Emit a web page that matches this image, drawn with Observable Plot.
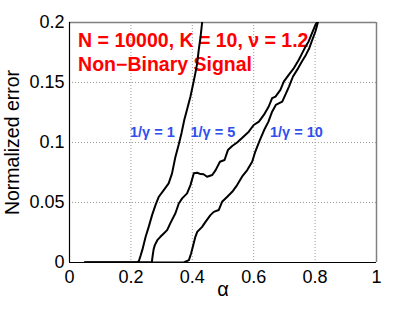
<!DOCTYPE html>
<html><head><meta charset="utf-8">
<script src="https://cdn.jsdelivr.net/npm/d3@7"></script>
<script src="https://cdn.jsdelivr.net/npm/@observablehq/plot@0.6"></script>
<style>
html,body{margin:0;padding:0;background:#fff;}
</style>
</head><body><div id="chart"></div>
<script>
// 1/gamma = 1
const alpha1 = [0.05,0.22,0.226,0.232,0.237,0.248,0.258,0.269,0.28,0.291,0.307,0.323,0.334,0.345,0.356,0.365,0.374,0.384,0.394,0.401,0.41,0.416,0.421,0.427,0.432];
const err1   = [0,0,0.0013,0.006,0.0103,0.0214,0.0297,0.0395,0.0478,0.0548,0.0603,0.0659,0.0743,0.088,0.0985,0.108,0.119,0.1285,0.1383,0.1466,0.1578,0.1661,0.1772,0.1883,0.2];
// 1/gamma = 5
const alpha2 = [0.05,0.268,0.271,0.274,0.278,0.286,0.296,0.307,0.318,0.329,0.345,0.356,0.367,0.383,0.394,0.405,0.416,0.427,0.437,0.448,0.465,0.476,0.49,0.505,0.516,0.53,0.546,0.562,0.584,0.6,0.617,0.633,0.649,0.66,0.671,0.687,0.698,0.714,0.731,0.747,0.758,0.769,0.779,0.79,0.801,0.806];
const err2   = [0,0,0.006,0.011,0.0145,0.0186,0.0214,0.0242,0.027,0.033,0.041,0.0492,0.0534,0.0576,0.0645,0.0743,0.0748,0.0737,0.0735,0.0715,0.0729,0.077,0.084,0.0854,0.0937,0.0971,0.1,0.1038,0.109,0.1146,0.1174,0.123,0.13,0.137,0.1383,0.1439,0.1508,0.1564,0.162,0.169,0.1745,0.18,0.1842,0.1912,0.1981,0.2];
// 1/gamma = 10
const alpha3 = [0.05,0.372,0.389,0.396,0.403,0.41,0.416,0.432,0.443,0.459,0.47,0.486,0.497,0.514,0.53,0.546,0.562,0.579,0.595,0.604,0.618,0.634,0.648,0.66,0.672,0.693,0.703,0.715,0.728,0.745,0.757,0.77,0.781,0.791,0.801,0.809];
const err3   = [0,0,0.002,0.0075,0.0144,0.0214,0.0255,0.0297,0.0339,0.0395,0.0422,0.0437,0.0506,0.0548,0.0589,0.0645,0.0715,0.077,0.084,0.0915,0.1007,0.1104,0.1174,0.1257,0.1313,0.134,0.1397,0.1466,0.155,0.162,0.1675,0.173,0.1786,0.1856,0.1925,0.2];

const seriesNames = ["1/γ = 1", "1/γ = 5", "1/γ = 10"];
const xTicks = [0, 0.2, 0.4, 0.6, 0.8, 1];
const xTickLabels = ["0", "0.2", "0.4", "0.6", "0.8", "1"];
const yTicks = [0, 0.05, 0.1, 0.15, 0.2];
const yTickLabels = ["0", "0.05", "0.1", "0.15", "0.2"];
const titleLines = ["N = 10000, K = 10, ν = 1.2", "Non−Binary Signal"];
const xLabel = "α";
const yLabel = "Normalized error";

const rows = [];
[[alpha1, err1], [alpha2, err2], [alpha3, err3]].forEach(([a, e], k) =>
  a.forEach((x, i) => rows.push({series: seriesNames[k], alpha: x, err: e[i]})));

const FONT = "'Liberation Sans', Arial, Helvetica, sans-serif";
const RED = "#ff0000";
const BLUE = "#2f4ff0";

const chart = Plot.plot({
  width: 415,
  height: 309,
  marginLeft: 69,
  marginRight: 39,
  marginTop: 22,
  marginBottom: 47,
  style: {fontFamily: FONT, background: "white", color: "black"},
  x: {domain: [0, 1]},
  y: {domain: [0, 0.2]},
  marks: [
    Plot.gridX(xTicks.slice(1, -1), {stroke: "#999", strokeOpacity: 1, strokeDasharray: "1,2"}),
    Plot.gridY(yTicks.slice(1, -1), {stroke: "#999", strokeOpacity: 1, strokeDasharray: "1,2"}),
    Plot.ruleY([yTicks[yTicks.length - 1]], {stroke: "#808080", strokeWidth: 1.5}),
    Plot.ruleX([xTicks[xTicks.length - 1]], {stroke: "#808080", strokeWidth: 1.5}),
    Plot.axisX(xTicks, {tickFormat: d => xTickLabels[xTicks.indexOf(d)], tickSize: 0, tickPadding: 8, fontSize: 18, label: null}),
    Plot.axisY(yTicks, {tickFormat: d => yTickLabels[yTicks.indexOf(d)], tickSize: 0, tickPadding: 5, fontSize: 18, label: null}),
    Plot.text([xLabel], {text: d => d, frameAnchor: "bottom", dy: 33, lineAnchor: "bottom", fontSize: 20}),
    Plot.text([yLabel], {text: d => d, frameAnchor: "left", rotate: -90, dx: -51, lineAnchor: "bottom", textAnchor: "middle", fontSize: 19.5}),
    Plot.text([titleLines[0]], {text: d => d, x: 0.028, y: 0.18, textAnchor: "start", lineAnchor: "bottom", fill: RED, fontWeight: "bold", fontSize: 19.5}),
    Plot.text([titleLines[1]], {text: d => d, x: 0.028, y: 0.16, textAnchor: "start", lineAnchor: "bottom", fill: RED, fontWeight: "bold", fontSize: 19.5}),
    Plot.text([seriesNames[0]], {text: d => d, x: 0.197, y: 0.1048, textAnchor: "start", lineAnchor: "bottom", fill: BLUE, fontWeight: "bold", fontSize: 14.5}),
    Plot.text([seriesNames[1]], {text: d => d, x: 0.394, y: 0.1048, textAnchor: "start", lineAnchor: "bottom", fill: BLUE, fontWeight: "bold", fontSize: 14.5}),
    Plot.text([seriesNames[2]], {text: d => d, x: 0.653, y: 0.1048, textAnchor: "start", lineAnchor: "bottom", fill: BLUE, fontWeight: "bold", fontSize: 14.5}),
    Plot.line(rows, {x: "alpha", y: "err", z: "series", stroke: "black", strokeWidth: 2, clip: true}),
    Plot.ruleX([xTicks[0]], {stroke: "black", strokeWidth: 1.2}),
    Plot.ruleY([yTicks[0]], {stroke: "black", strokeWidth: 1.2})
  ]
});
document.getElementById("chart").appendChild(chart);
</script>
</body></html>
